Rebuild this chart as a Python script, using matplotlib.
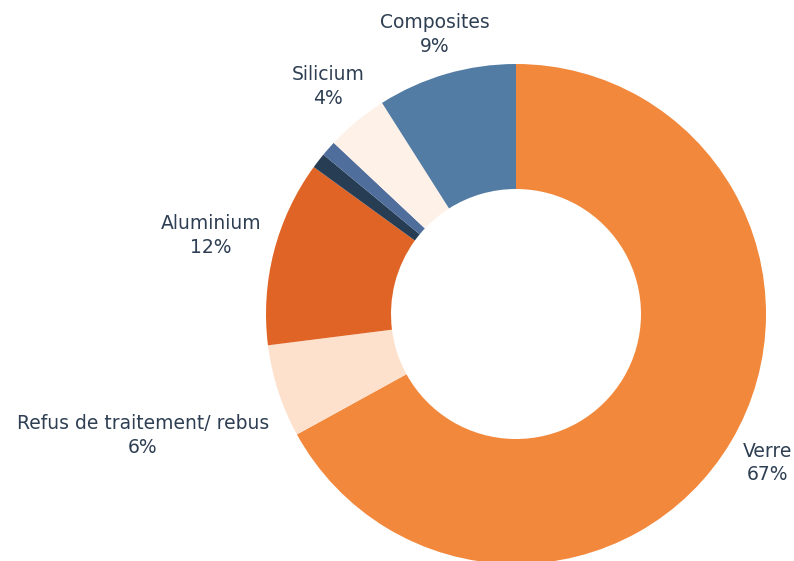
import matplotlib
matplotlib.use('Agg')
import matplotlib.pyplot as plt
import numpy as np

# Données (en %)
categories = ['Verre', 'Refus de traitement/ rebus', 'Aluminium', 'Autre 1', 'Autre 2',
              'Silicium', 'Composites']
valeurs = [67, 6, 12, 1, 1, 4, 9]
afficher = [True, True, True, False, False, True, True]
couleurs = ['#F2883B', '#FDE1CD', '#E06426', '#263D54', '#4F6E9B', '#FEF1E8', '#527CA4']
distances = [1.17, 1.57, 1.26, 1.1, 1.1, 1.18, 1.165]

couleur_texte = '#2E3F53'

fig = plt.figure(figsize=(7.94, 5.61), dpi=100)
# axe carré de 500 px centré sur (516, 314)
ax = fig.add_axes([266 / 794, -3 / 561, 500 / 794, 500 / 561])
ax.axis('off')

wedges, _ = ax.pie(valeurs, colors=couleurs, startangle=90, counterclock=False,
                   radius=1, wedgeprops=dict(width=0.5, edgecolor='none'),
                   frame=False)
ax.set_xlim(-1, 1)
ax.set_ylim(-1, 1)

for w, cat, val, show, d in zip(wedges, categories, valeurs, afficher, distances):
    if not show:
        continue
    ang = np.deg2rad((w.theta1 + w.theta2) / 2)
    x, y = d * np.cos(ang), d * np.sin(ang)
    ax.text(x, y, f'{cat}\n{val}%', ha='center', va='center', fontsize=13.5,
            color=couleur_texte, linespacing=1.3, clip_on=False)

fig.savefig('out.png', dpi=100)
